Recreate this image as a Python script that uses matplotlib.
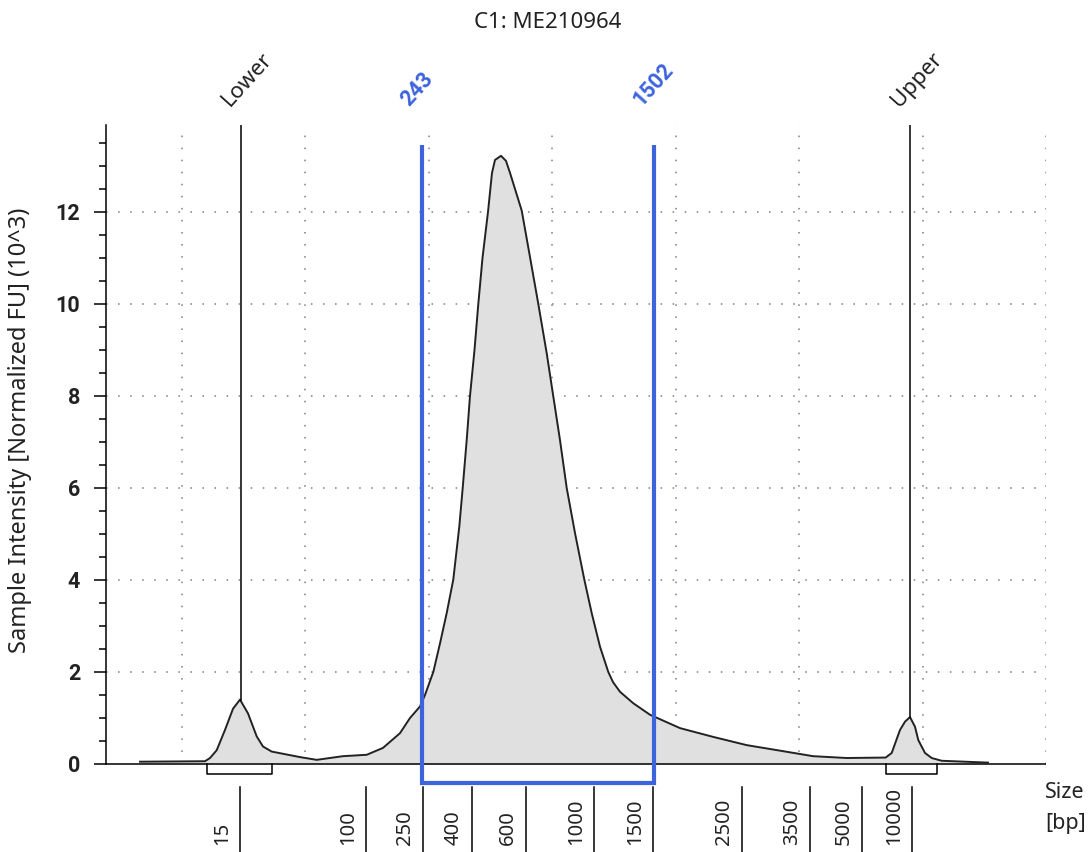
import matplotlib.pyplot as plt
import numpy as np

plt.rcParams['font.family'] = ['Noto Sans', 'DejaVu Sans']

# electropherogram trace (position along run, intensity in 10^3 FU)
trace_pos = [34, 99, 104, 110.7, 119, 127, 134, 142, 150.7, 157, 165.7, 194, 210.7, 237,
             260.7, 277, 294, 304, 314, 319, 327.3, 334, 340.7, 347.3, 353.3, 356.7, 360.7,
             364, 368.5, 372.3, 376.5, 382, 386, 389, 395, 400, 404, 415.7, 424, 432.3,
             440.7, 447.3, 454, 460.7, 469, 478.3, 485.7, 494, 502.3, 507, 514, 527.3, 544,
             574, 607, 640.7, 674, 707, 740.7, 779.7, 785.7, 794, 799, 804, 809, 812.3, 819,
             825.7, 835.7, 882]
trace_fu = [0.05, 0.06, 0.13, 0.30, 0.74, 1.20, 1.40, 1.10, 0.60, 0.38, 0.27, 0.15, 0.09, 0.17,
            0.20, 0.35, 0.67, 1.00, 1.25, 1.50, 2.00, 2.62, 3.28, 4.01, 5.16, 6.00, 7.04,
            8.00, 9.00, 10.00, 11.00, 12.00, 12.85, 13.13, 13.22, 13.11, 12.85, 12.03, 11.02, 10.00,
            8.93, 7.99, 7.04, 6.00, 5.02, 4.01, 3.28, 2.55, 2.00, 1.78, 1.57, 1.32, 1.07,
            0.78, 0.59, 0.41, 0.29, 0.17, 0.13, 0.14, 0.24, 0.74, 0.92, 1.02, 0.81, 0.52, 0.24,
            0.13, 0.07, 0.03]

# markers
marker_names = ['Lower', 'Upper']
marker_pos = [135, 804]
marker_fu = [1.40, 1.02]
marker_box = [(101, 166), (780, 831)]

# selected region
region_labels = ['243', '1502']
region_pos = [316, 548]
region_top = 13.46

# ladder sizes along the bottom
ladder_sizes = ['15', '100', '250', '400', '600', '1000', '1500', '2500', '3500', '5000', '10000']
ladder_pos = [134, 260, 317, 366, 420, 488, 547, 636, 704, 756, 806]

blue = '#3d63dd'
ink = '#222222'
ymin, ymax = -1.913, 13.89

fig = plt.figure(figsize=(10.89, 8.52), dpi=100)
ax = fig.add_axes([106 / 1089, 0, 940 / 1089, 727 / 852])
ax.set_xlim(0, 940)
ax.set_ylim(ymin, ymax)

# dotted grid
grid_style = dict(color='#9a9a9a', lw=1.4, ls=(0, (0.8, 5.4)), zorder=0)
for gy in range(2, 13, 2):
    ax.plot([0, 940], [gy, gy], **grid_style)
for gx in np.arange(75.5, 941, 123.5):
    ax.plot([gx, gx], [0, ymax], **grid_style)

# trace
ax.fill_between(trace_pos, trace_fu, 0, color='#e0e0e0', lw=0, zorder=1)
ax.plot(trace_pos, trace_fu, color=ink, lw=1.4, zorder=3)

# x axis line
ax.axhline(0, color='black', lw=1.1, zorder=2)

# marker lines, boxes and labels
for name, mx, my, (b0, b1) in zip(marker_names, marker_pos, marker_fu, marker_box):
    ax.plot([mx, mx], [my, ymax], color='black', lw=1.1, zorder=3)
    ax.plot([b0, b0, b1, b1], [0, -0.22, -0.22, 0], color='black', lw=1.1, zorder=3)
    ax.text(mx - 7, 14.2, name, rotation=48, rotation_mode='anchor', ha='left', va='bottom',
            fontsize=16, color=ink, clip_on=False)

# region bracket
ax.plot([region_pos[0], region_pos[0], region_pos[1], region_pos[1]],
        [region_top, -0.41, -0.41, region_top], color=blue, lw=3, solid_joinstyle='miter',
        solid_capstyle='butt', zorder=4)
for lab, rx in zip(region_labels, region_pos):
    ax.text(rx - 9, 14.2, lab, rotation=48, rotation_mode='anchor', ha='left', va='bottom',
            fontsize=15.5, color=blue, fontweight='bold', family=['Roboto', 'DejaVu Sans'],
            clip_on=False)

# ladder ticks
for lab, lx in zip(ladder_sizes, ladder_pos):
    ax.plot([lx, lx], [-0.5, ymin], color='black', lw=1.1, clip_on=False)
    ax.text(lx - 18, -1.77, lab, rotation=90, ha='center', va='bottom', fontsize=14.5,
            color=ink)

# y axis
for side in ['top', 'right', 'bottom']:
    ax.spines[side].set_visible(False)
ax.spines['left'].set_bounds(0, ymax)
ax.spines['left'].set_linewidth(1.1)
ax.set_yticks(range(0, 13, 2))
ax.set_yticks([v for v in np.arange(0.5, 14, 0.5) if v % 2 != 0], minor=True)
ax.tick_params(axis='y', which='major', length=8.6, width=1.1, pad=10, labelsize=15.5)
ax.tick_params(axis='y', which='minor', length=5, width=1.1)
for t in ax.get_yticklabels():
    t.set_fontweight('bold')
    t.set_family(['Roboto', 'DejaVu Sans'])
    t.set_color(ink)
ax.set_xticks([])

fig.text(20 / 1089, 1 - 430 / 852, 'Sample Intensity [Normalized FU] (10^3)', rotation=90,
         ha='center', va='center', fontsize=17, color=ink)
fig.text(548 / 1089, 1 - 22 / 852, 'C1: ME210964', ha='center', va='center', fontsize=16,
         color=ink)
fig.text(1045 / 1089, 1 - 792 / 852, 'Size', ha='left', va='center', fontsize=15.5, color=ink)
fig.text(1045 / 1089, 1 - 823 / 852, '[bp]', ha='left', va='center', fontsize=15.5, color=ink)

fig.savefig('out.png', dpi=100)
